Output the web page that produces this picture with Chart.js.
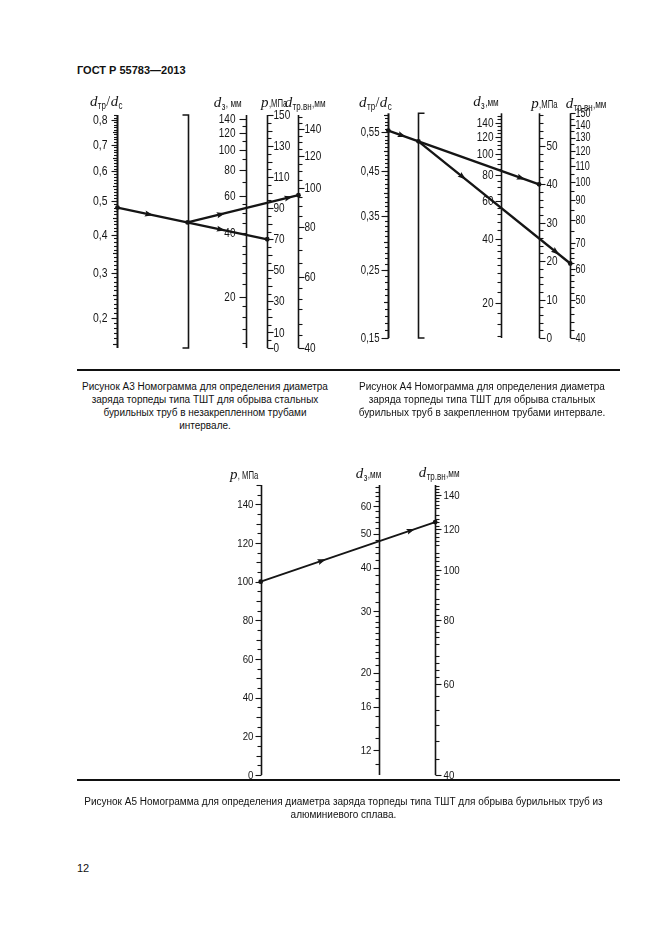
<!DOCTYPE html>
<html><head><meta charset="utf-8">
<script src="https://cdn.jsdelivr.net/npm/chart.js@4.4.1/dist/chart.umd.min.js"></script>
<style>
html,body{margin:0;padding:0;background:#fff;}
body{width:661px;height:936px;position:relative;overflow:hidden;color:#111;font-family:'Liberation Sans',Arial,sans-serif;}
canvas{position:absolute;}
.t{position:absolute;white-space:nowrap;color:#111;}
.hdr{left:77px;top:64px;font:bold 11px/13px 'Liberation Sans',Arial,sans-serif;}
.cap{font:10px/13px 'Liberation Sans',Arial,sans-serif;text-align:center;}
.rule{position:absolute;left:77px;width:543px;height:2px;background:#111;}
</style></head><body>
<div class="t hdr">ГОСТ Р 55783—2013</div>
<canvas id="c3" width="290" height="270" style="left:60px;top:90px"></canvas>
<canvas id="c4" width="290" height="260" style="left:340px;top:90px"></canvas>
<div class="rule" style="top:369px"></div>
<div class="t cap" style="left:75px;width:260px;top:380px">Рисунок А3 Номограмма для определения диаметра<br>заряда торпеды типа ТШТ для обрыва стальных<br>бурильных труб в незакрепленном трубами<br>интервале.</div>
<div class="t cap" style="left:352px;width:260px;top:380px">Рисунок А4 Номограмма для определения диаметра<br>заряда торпеды типа ТШТ для обрыва стальных<br>бурильных труб в закрепленном трубами интервале.</div>
<canvas id="c5" width="290" height="330" style="left:200px;top:460px"></canvas>
<div class="rule" style="top:779px"></div>
<div class="t cap" style="left:83px;width:521px;top:795px">Рисунок А5 Номограмма для определения диаметра заряда торпеды типа ТШТ для обрыва бурильных труб из<br>алюминиевого сплава.</div>
<div class="t" style="left:77px;top:862px;font:11px/13px 'Liberation Sans',Arial,sans-serif;">12</div>
<script>
// ================= DATA =================
// Рисунок А3
const a3RatioLabels    = [0.8, 0.7, 0.6, 0.5, 0.4, 0.3, 0.2];
const a3ChargeLabels   = [140, 120, 100, 80, 60, 40, 20];
const a3PressureLabels = [150, 130, 110, 90, 70, 50, 30, 10, 0];
const a3InnerLabels    = [140, 120, 100, 80, 60, 40];
const a3ChargeMinor    = [12, 14, 16, 18, 23, 26, 29, 32, 35, 45, 50, 55, 70, 90, 110, 130];
const a3InnerMinor     = [43, 46, 50, 53, 56.5, 65, 70, 75, 85, 90, 95, 105, 110, 115, 125, 130, 135, 145, 150];
const a3Ratio    = [0.48];   // dтр/dс
const a3Pressure = [70];     // p, МПа
const a3Inner    = [96];     // dтр.вн, мм

// Рисунок А4
const a4RatioLabels    = [0.55, 0.45, 0.35, 0.25, 0.15];
const a4ChargeLabels   = [140, 120, 100, 80, 60, 40, 20];
const a4PressureLabels = [50, 40, 30, 20, 10, 0];
const a4InnerLabels    = [150, 140, 130, 120, 110, 100, 90, 80, 70, 60, 50, 40];
const a4ChargeMinor    = [14, 16, 18, 22.5, 25, 27.5, 30, 32.5, 35, 37.5, 44, 48, 52, 56, 65, 70, 75, 85, 90, 95, 105, 110, 115, 125, 130, 135, 145, 150];
const a4InnerMinor     = [42, 44, 46, 48, 52, 54, 56, 58, 62, 64, 66, 68, 75, 85, 95, 105, 115, 125, 135, 145];
const a4Ratio    = [0.555];
const a4Pressure = [40];
const a4Inner    = [62];

// Рисунок А5
const a5PressureLabels = [140, 120, 100, 80, 60, 40, 20, 0];
const a5ChargeLabels   = [60, 50, 40, 30, 20, 16, 12];
const a5InnerLabels    = [140, 120, 100, 80, 60, 40];
const a5ChargeMinor    = [11, 13, 14, 15, 17, 18, 19, 21, 22, 23, 24, 25, 26, 27, 28, 29, 32, 34, 36, 38, 42, 44, 46, 48, 52, 54, 56, 58, 62, 64, 66, 68];
const a5InnerMinor     = [43, 46.5, 50, 53.5, 57, 62, 64, 66, 68, 72, 74, 76, 78, 82, 84, 86, 88, 92, 94, 96, 98, 102, 104, 106, 108, 112, 114, 116, 118, 122, 124, 126, 128, 132, 134, 136, 138, 142, 144, 146];
const a5Pressure = [100];
const a5Inner    = [124];

// ================= HELPERS =================
const INK = '#151515';
const range = (a, b, s) => { const r = []; for (let v = a; v <= b + 1e-9; v += s) r.push(Math.round(v * 1000) / 1000); return r; };
const without = (arr, ex) => arr.filter(v => !ex.some(e => Math.abs(e - v) < 1e-6));

class ShiftLogScale extends Chart.LinearScale {
  static id = 'shiftlog';
  _sl() { const s = this.options.shift || 0; return [s, Math.log(this.min + s), Math.log(this.max + s)]; }
  getPixelForValue(v) { const [s, a, b] = this._sl(); return this.getPixelForDecimal((Math.log(v + s) - a) / (b - a)); }
  getValueForPixel(p) { const [s, a, b] = this._sl(); return Math.exp(a + this.getDecimalForPixel(p) * (b - a)) - s; }
}
Chart.register(ShiftLogScale);

const SANS = "'Liberation Sans','DejaVu Sans',Arial,sans-serif";
const TF = {
  it:    { font: "italic 15px 'Liberation Serif','DejaVu Serif',serif", dy: 0, sx: 1 },
  sl:    { font: "14px 'Liberation Serif','DejaVu Serif',serif", dy: 0, sx: 1 },
  sub:   { font: "10px " + SANS, dy: 2.5, sx: 0.8 },
  unitS: { font: "10px " + SANS, dy: 0, sx: 0.82 },
  unit:  { font: "11px " + SANS, dy: 0, sx: 0.7 }
};

function line(ctx, x1, y1, x2, y2) { ctx.beginPath(); ctx.moveTo(x1, y1); ctx.lineTo(x2, y2); ctx.stroke(); }
function fmt(v, dec) { return dec ? v.toFixed(dec).replace('.', ',') : String(v); }
function sqText(ctx, txt, x, y, sx, align) { ctx.save(); ctx.translate(x, y); ctx.scale(sx, 1); ctx.textAlign = align; ctx.fillText(txt, 0, 0); ctx.restore(); }

function nomoPlugin(axes, titles) {
  return {
    id: 'nomo',
    beforeDatasetsDraw(chart) {
      const { ctx, chartArea } = chart; const xs = chart.scales.x;
      ctx.save(); ctx.strokeStyle = INK; ctx.fillStyle = INK;
      Object.values(axes).forEach(ax => {
        const X = Math.round(xs.getPixelForValue(ax.at)) + 0.5;
        if (ax.ref) {
          const d = ax.serif === 'left' ? -1 : 1;
          ctx.lineWidth = 1.6; ctx.beginPath();
          ctx.moveTo(X + d * 6, chartArea.top); ctx.lineTo(X, chartArea.top);
          ctx.lineTo(X, chartArea.bottom); ctx.lineTo(X + d * 6, chartArea.bottom); ctx.stroke();
          return;
        }
        const s = chart.scales[ax.scale];
        const inR = v => v >= s.min - 1e-6 && v <= s.max + 1e-6;
        const yp = v => Math.round(s.getPixelForValue(v)) + 0.5;
        const dir = ax.side === 'left' ? -1 : 1;
        ctx.lineWidth = ax.spine || 1.6;
        line(ctx, X, s.getPixelForValue(s.max), X, s.getPixelForValue(s.min));
        ctx.lineWidth = 1.1;
        const L = ax.len;
        (ax.minor || []).filter(inR).forEach(v => line(ctx, X, yp(v), X + dir * L[0], yp(v)));
        (ax.medium || []).filter(inR).forEach(v => line(ctx, X, yp(v), X + dir * L[1], yp(v)));
        ax.labels.filter(inR).forEach(v => line(ctx, X, yp(v), X + dir * L[2], yp(v)));
        ctx.font = ax.font; ctx.textBaseline = 'middle';
        ax.labels.filter(inR).forEach(v => sqText(ctx, fmt(v, ax.dec), X + dir * ax.gap, s.getPixelForValue(v) + 0.5, ax.sx, dir < 0 ? 'right' : 'left'));
      });
      ctx.textBaseline = 'alphabetic';
      titles.forEach(t => {
        let cx = xs.getPixelForValue(t.x); const cy = chartArea.top + t.dy;
        t.parts.forEach(([txt, st]) => {
          const f = TF[st]; ctx.font = f.font;
          sqText(ctx, txt, cx, cy + f.dy, f.sx, 'left');
          cx += ctx.measureText(txt).width * f.sx + 0.4;
        });
      });
      ctx.restore();
    },
    afterDatasetsDraw(chart) {
      const ctx = chart.ctx;
      chart.data.datasets.forEach((ds, i) => {
        const pts = chart.getDatasetMeta(i).data; if (pts.length < 2) return;
        const a = pts[0], b = pts[pts.length - 1];
        const ang = Math.atan2(b.y - a.y, b.x - a.x);
        (ds.arrowAt || []).forEach(f => {
          ctx.save(); ctx.fillStyle = INK;
          ctx.translate(a.x + f * (b.x - a.x), a.y + f * (b.y - a.y)); ctx.rotate(ang);
          ctx.beginPath(); ctx.moveTo(4.5, 0); ctx.lineTo(-4, -3); ctx.lineTo(-2.5, 0); ctx.lineTo(-4, 3); ctx.closePath(); ctx.fill();
          ctx.restore();
        });
      });
    }
  };
}

function makeNomogram(id, cfg) {
  const scales = { x: { type: 'linear', min: cfg.xmin, max: cfg.xmax, display: false },
                   yPaper: { type: 'linear', axis: 'y', min: 0, max: 1, display: false } };
  Object.entries(cfg.scales).forEach(([k, v]) => scales[k] = Object.assign({ axis: 'y', position: 'left', display: false, bounds: 'data' }, v));
  const chart = new Chart(document.getElementById(id), {
    type: 'line',
    data: { datasets: cfg.lines.map(l => ({ data: [], borderColor: INK, borderWidth: l.width, pointRadius: 2.4, pointHoverRadius: 0,
      pointBackgroundColor: INK, pointBorderWidth: 0, tension: 0, clip: false, xAxisID: 'x', yAxisID: 'yPaper', arrowAt: l.arrows })) },
    options: { responsive: false, animation: false, events: [], layout: { padding: cfg.padding },
      plugins: { legend: { display: false }, tooltip: { enabled: false } }, scales },
    plugins: [nomoPlugin(cfg.axes, cfg.titles)]
  });
  const paper = chart.scales.yPaper; const built = [];
  cfg.lines.forEach((l, i) => {
    const d = l.points.map(p => {
      const ax = cfg.axes[p.axis];
      if (p.cross !== undefined) {
        const [a, b] = built[p.cross]; const t = (ax.at - a.x) / (b.x - a.x);
        return { x: ax.at, y: a.y + t * (b.y - a.y) };
      }
      return { x: ax.at, y: paper.getValueForPixel(chart.scales[ax.scale].getPixelForValue(p.v)) };
    });
    built.push(d); chart.data.datasets[i].data = d;
  });
  chart.update('none');
  return chart;
}

const FL = "13px " + SANS, FM = "12px " + SANS, FS = "11px " + SANS;

// ---------- A3 ----------
makeNomogram('c3', {
  xmin: 60, xmax: 350, padding: { top: 25, bottom: 12, left: 0, right: 0 },
  scales: {
    yRatio: { type: 'shiftlog', shift: 0.35, min: 0.142, max: 0.822 },
    yCharge: { type: 'logarithmic', min: 11.4, max: 146 },
    yPress: { type: 'linear', min: 0, max: 150 },
    yInner: { type: 'logarithmic', min: 40, max: 152 }
  },
  axes: {
    ratio:  { scale: 'yRatio', at: 116, side: 'left', labels: a3RatioLabels, dec: 1, minor: range(0.15, 0.82, 0.01),
              medium: [0.15, 0.25, 0.35, 0.45, 0.55, 0.65, 0.75], len: [3.5, 4.5, 6], gap: 10, font: FL, sx: 0.8, spine: 2 },
    ref:    { ref: true, at: 187.3, serif: 'left' },
    charge: { scale: 'yCharge', at: 246.7, side: 'left', labels: a3ChargeLabels, minor: a3ChargeMinor, len: [4, 5, 7], gap: 11, font: FL, sx: 0.77 },
    press:  { scale: 'yPress', at: 268.3, side: 'right', labels: a3PressureLabels, minor: range(5, 145, 10),
              medium: [20, 40, 60, 80, 100, 120, 140], len: [4, 5, 6], gap: 6, font: FL, sx: 0.77 },
    inner:  { scale: 'yInner', at: 300, side: 'right', labels: a3InnerLabels, minor: a3InnerMinor, len: [4, 5, 6], gap: 6, font: FL, sx: 0.77 }
  },
  lines: [
    { width: 2.3, arrows: [0.21, 0.69], points: [{ axis: 'ratio', v: a3Ratio[0] }, { axis: 'press', v: a3Pressure[0] }] },
    { width: 2.3, arrows: [0.3, 0.91], points: [{ axis: 'ref', cross: 0 }, { axis: 'inner', v: a3Inner[0] }] }
  ],
  titles: [
    { x: 88, dy: -9, parts: [['d', 'it'], ['тр', 'sub'], ['/', 'sl'], ['d', 'it'], ['с', 'sub']] },
    { x: 214, dy: -8, parts: [['d', 'it'], ['з', 'sub'], [', мм', 'unitS']] },
    { x: 262, dy: -8, parts: [['p', 'it'], [',МПа', 'unit']] },
    { x: 286, dy: -8, parts: [['d', 'it'], ['тр.вн', 'sub'], [',мм', 'unitS']] }
  ]
});

// ---------- A4 ----------
makeNomogram('c4', {
  xmin: 340, xmax: 630, padding: { top: 23.3, bottom: 12, left: 0, right: 0 },
  scales: {
    yRatio: { type: 'shiftlog', shift: 0.2, min: 0.15, max: 0.605 },
    yCharge: { type: 'logarithmic', min: 13.7, max: 155 },
    yPress: { type: 'linear', min: 0, max: 58.5 },
    yInner: { type: 'logarithmic', min: 40, max: 150 }
  },
  axes: {
    ratio:  { scale: 'yRatio', at: 386.7, side: 'left', labels: a4RatioLabels, dec: 2, minor: range(0.15, 0.60, 0.01),
              medium: [0.2, 0.3, 0.4, 0.5, 0.6], len: [3.5, 4.5, 7], gap: 9, font: FM, sx: 0.8, spine: 2 },
    ref:    { ref: true, at: 417.3, serif: 'right' },
    charge: { scale: 'yCharge', at: 501.7, side: 'left', labels: a4ChargeLabels, minor: a4ChargeMinor, len: [4, 5, 6], gap: 8, font: FL, sx: 0.77 },
    press:  { scale: 'yPress', at: 540, side: 'right', labels: a4PressureLabels, minor: without(range(2, 58, 2), [10, 20, 30, 40, 50]),
              len: [4, 5, 6], gap: 7, font: FL, sx: 0.77 },
    inner:  { scale: 'yInner', at: 571.7, side: 'right', labels: a4InnerLabels, minor: a4InnerMinor, len: [4, 5, 5], gap: 5, font: FM, sx: 0.75 }
  },
  lines: [
    { width: 2.3, arrows: [0.09, 0.88], points: [{ axis: 'ratio', v: a4Ratio[0] }, { axis: 'press', v: a4Pressure[0] }] },
    { width: 2.3, arrows: [0.29, 0.905], points: [{ axis: 'ref', cross: 0 }, { axis: 'inner', v: a4Inner[0] }] }
  ],
  titles: [
    { x: 357, dy: -6, parts: [['d', 'it'], ['тр', 'sub'], ['/', 'sl'], ['d', 'it'], ['с', 'sub']] },
    { x: 473, dy: -7, parts: [['d', 'it'], ['з', 'sub'], [',мм', 'unitS']] },
    { x: 532, dy: -5, parts: [['p', 'it'], [',МПа', 'unit']] },
    { x: 567, dy: -5, parts: [['d', 'it'], ['тр.вн', 'sub'], [',мм', 'unitS']] }
  ]
});

// ---------- A5 ----------
makeNomogram('c5', {
  xmin: 200, xmax: 490, padding: { top: 25, bottom: 15, left: 0, right: 0 },
  scales: {
    yPress: { type: 'linear', min: 0, max: 150 },
    yCharge: { type: 'logarithmic', min: 10.2, max: 69 },
    yInner: { type: 'logarithmic', min: 40, max: 146.4 }
  },
  axes: {
    press:  { scale: 'yPress', at: 259.3, side: 'left', labels: a5PressureLabels, minor: range(5, 145, 10),
              medium: [10, 30, 50, 70, 90, 110, 130, 150], len: [4, 5, 6], gap: 8, font: FS, sx: 0.88 },
    charge: { scale: 'yCharge', at: 380, side: 'left', labels: a5ChargeLabels, minor: a5ChargeMinor, len: [4, 5, 6], gap: 8, font: FS, sx: 0.88 },
    inner:  { scale: 'yInner', at: 436.7, side: 'right', labels: a5InnerLabels, minor: a5InnerMinor, len: [4, 5, 6], gap: 8, font: FS, sx: 0.88 }
  },
  lines: [
    { width: 1.8, arrows: [0.35, 0.86], points: [{ axis: 'press', v: a5Pressure[0] }, { axis: 'inner', v: a5Inner[0] }] }
  ],
  titles: [
    { x: 228, dy: -6, parts: [['p', 'it'], [', МПа', 'unit']] },
    { x: 356, dy: -7, parts: [['d', 'it'], ['з', 'sub'], [',мм', 'unitS']] },
    { x: 420, dy: -8, parts: [['d', 'it'], ['тр.вн', 'sub'], [',мм', 'unitS']] }
  ]
});
</script>
</body></html>
